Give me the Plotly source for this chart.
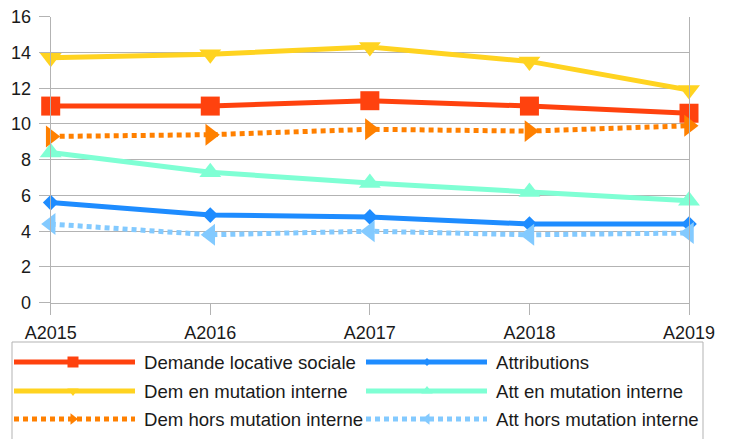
import plotly.graph_objects as go

# Figure size in pixels
W, H = 732, 439

years = ["A2015", "A2016", "A2017", "A2018", "A2019"]

demande_locative = [11.0, 11.0, 11.3, 11.0, 10.6]
dem_en_mutation = [13.7, 13.9, 14.3, 13.5, 11.9]
dem_hors_mutation = [9.3, 9.4, 9.7, 9.6, 9.9]
attributions = [5.6, 4.9, 4.8, 4.4, 4.4]
att_en_mutation = [8.4, 7.3, 6.7, 6.2, 5.7]
att_hors_mutation = [4.4, 3.8, 4.0, 3.8, 3.9]

y_ticks = [0, 2, 4, 6, 8, 10, 12, 14, 16]

GRID = "#b3b3b3"
FONT = "Liberation Sans, Arial, sans-serif"
TEXT = "#1a1a1a"

# name, values, colour, dash, symbol, marker size, legend marker size
series = [
    ("Demande locative sociale", demande_locative, "#ff420e", "solid", "square", 19, 11),
    ("Attributions", attributions, "#1e8cff", "solid", "diamond", 12, 6),
    ("Dem en mutation interne", dem_en_mutation, "#ffd320", "solid", "triangle-down", 19, 10),
    ("Att en mutation interne", att_en_mutation, "#7fffd4", "solid", "triangle-up", 19, 10),
    ("Dem hors mutation interne", dem_hors_mutation, "#ff8000", "5px,4px", "triangle-right", 19, 10),
    ("Att hors mutation interne", att_hors_mutation, "#83caff", "5px,4px", "triangle-left", 19, 10),
]

fig = go.Figure()

for name, vals, color, dash, sym, msize, _ in series:
    fig.add_trace(go.Scatter(
        x=years, y=vals, name=name, mode="lines+markers",
        line=dict(color=color, width=5, dash=dash),
        marker=dict(symbol=sym, size=msize, color=color, line=dict(width=0)),
        cliponaxis=False, showlegend=False, xaxis="x", yaxis="y",
    ))

# Hand-built two-column legend in its own pixel-scaled subplot
leg_rows = [362, 391, 419]
leg_cols = [(14, 135, 73, 142), (366, 487, 427, 494)]
annotations = []
for i, (name, vals, color, dash, sym, _, lsize) in enumerate(series):
    x0, x1, xm, xt = leg_cols[i % 2]
    yr = leg_rows[i // 2]
    fig.add_trace(go.Scatter(
        x=[x0, xm, x1], y=[yr, yr, yr], mode="lines",
        line=dict(color=color, width=5, dash=dash),
        showlegend=False, hoverinfo="skip", xaxis="x2", yaxis="y2",
    ))
    fig.add_trace(go.Scatter(
        x=[xm], y=[yr], mode="markers",
        marker=dict(symbol=sym, size=lsize, color=color, line=dict(width=0)),
        showlegend=False, hoverinfo="skip", xaxis="x2", yaxis="y2",
    ))
    annotations.append(dict(
        x=xt, y=yr, xref="x2", yref="y2", text=name, showarrow=False,
        xanchor="left", yanchor="middle",
        font=dict(family=FONT, size=18.6, color=TEXT),
    ))

plot_left, plot_right = 50.7, 689.0
plot_top, plot_bottom = 16.7, 302.7

fig.update_layout(
    width=W, height=H,
    margin=dict(l=0, r=0, t=0, b=0, autoexpand=False),
    paper_bgcolor="white", plot_bgcolor="white",
    font=dict(family=FONT, size=18, color=TEXT),
    xaxis=dict(
        domain=[plot_left / W, plot_right / W],
        type="category", range=[0, 4],
        showgrid=False, zeroline=False,
        showline=True, linecolor=GRID, linewidth=1,
        ticks="outside", ticklen=11, tickcolor=GRID, tickwidth=1,
        ticklabelstandoff=3,
        tickfont=dict(family=FONT, size=18, color=TEXT),
        anchor="y",
    ),
    yaxis=dict(
        domain=[(H - plot_bottom) / H, (H - plot_top) / H],
        range=[0, 16], tickvals=y_ticks,
        showgrid=True, gridcolor=GRID, gridwidth=1, zeroline=False,
        showline=True, mirror=True, linecolor=GRID, linewidth=1,
        ticks="outside", ticklen=11, tickcolor=GRID, tickwidth=1,
        ticklabelstandoff=4,
        tickfont=dict(family=FONT, size=18, color=TEXT),
        anchor="x",
    ),
    xaxis2=dict(
        domain=[0, 1], range=[0, W], visible=False, fixedrange=True,
        anchor="y2",
    ),
    yaxis2=dict(
        domain=[0, (H - 338) / H], range=[H, 338], visible=False,
        fixedrange=True, anchor="x2",
    ),
    shapes=[dict(
        type="rect", xref="x2", yref="y2", x0=12, x1=703, y0=342, y1=445,
        line=dict(color=GRID, width=1), fillcolor="rgba(0,0,0,0)", layer="below",
    )],
    annotations=annotations,
)

fig.write_html("out.html")
